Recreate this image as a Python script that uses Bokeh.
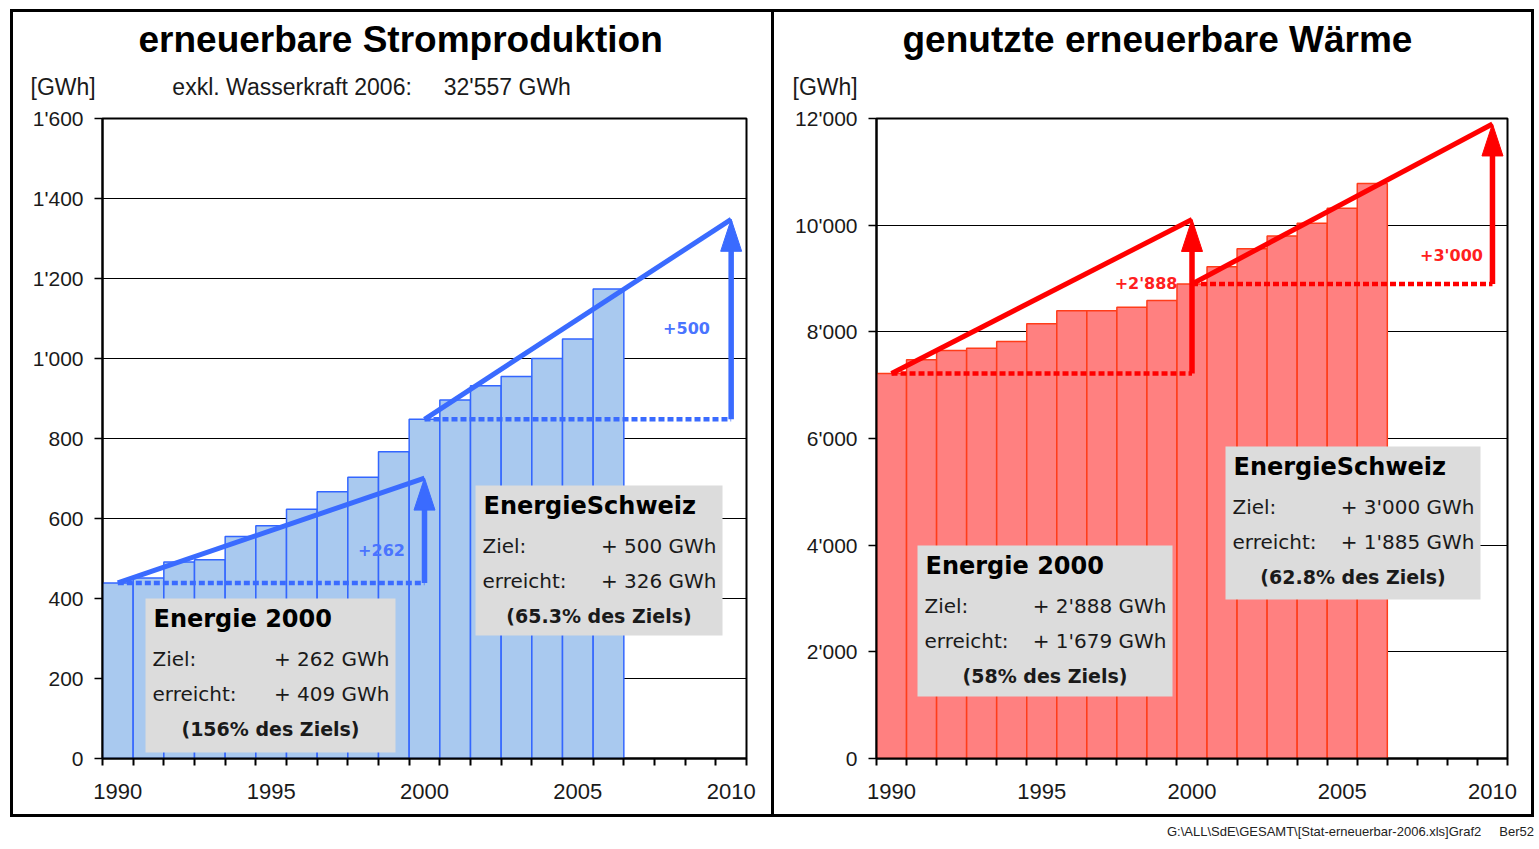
from bokeh.plotting import figure
from bokeh.models import Range1d, FixedTicker, Label, BoxAnnotation, Div, Title, Spacer
from bokeh.layouts import row, column
from bokeh.embed import file_html
from bokeh.resources import INLINE

# ---------------- data ----------------
years = list(range(1990, 2007))
strom = [439, 451, 491, 497, 555, 582, 623, 667, 703, 767, 848, 896, 932, 955, 1000, 1049, 1174]
waerme = [7219, 7477, 7649, 7692, 7821, 8151, 8394, 8394, 8459, 8588, 8898, 9219, 9556, 9799, 10036, 10315, 10783]

strom_yticks = [0, 200, 400, 600, 800, 1000, 1200, 1400, 1600]
strom_ytick_labels = ["0", "200", "400", "600", "800", "1'000", "1'200", "1'400", "1'600"]
waerme_yticks = [0, 2000, 4000, 6000, 8000, 10000, 12000]
waerme_ytick_labels = ["0", "2'000", "4'000", "6'000", "8'000", "10'000", "12'000"]
x_ticks = [1990, 1995, 2000, 2005, 2010]
x_tick_labels = ["1990", "1995", "2000", "2005", "2010"]

base_year, mid_year, goal_year = 1990, 2000, 2010
strom_ziel_e2000, strom_ziel_es = 262, 500
waerme_ziel_e2000, waerme_ziel_es = 2888, 3000
strom_pct = ["156%", "65.3%"]
waerme_pct = ["58%", "62.8%"]

FONT = "Liberation Sans"
BOXFONT = "DejaVu Sans"
NB = "\u00a0"

FIG_TOP = 12      # page y of figure top
FIG_H = 802


def fmt(v):
    return f"{v:,}".replace(",", "'")


def make_title(**kw):
    try:
        return Title(**kw)
    except Exception:
        kw["standoff"] = 0
        return Title(**kw)


def make_panel(width, fig_x, frame_left, frame_w, ymax, yticks, ylabels,
               vals, ziele, fill, edge, linec, labc, title, title_left, sub_text, sub_left, texts):
    frame_top, frame_bottom = 118, 758
    p = figure(width=width, height=FIG_H, x_range=Range1d(1989.5, 2010.5), y_range=Range1d(0, ymax),
               output_backend="svg", toolbar_location=None, margin=0)
    p.title_location = None
    p.min_border_left = frame_left - fig_x
    p.min_border_right = fig_x + width - (frame_left + frame_w)
    p.min_border_top = frame_top - FIG_TOP
    p.min_border_bottom = FIG_TOP + FIG_H - frame_bottom
    p.background_fill_color = "white"
    p.border_fill_color = "white"
    p.outline_line_color = "black"
    p.outline_line_width = 2

    fb = frame_bottom
    ppx = frame_w / 21.0
    ppy = (frame_bottom - frame_top) / float(ymax)

    def dx(px):
        return 1989.5 + (px - frame_left) / ppx

    def dy(py):
        return (fb - py) / ppy

    # header titles (sub line first = closest to the frame)
    p.add_layout(make_title(text=sub_text, align="left", offset=sub_left - frame_left, standoff=38,
                            text_font=FONT, text_font_size="23px", text_font_style="normal",
                            text_color="#1a1a1a"), "above")
    p.add_layout(make_title(text=title, align="left", offset=title_left - frame_left, standoff=-14,
                            text_font=FONT, text_font_size="37px", text_font_style="bold",
                            text_color="black"), "above")

    # axes
    xa = p.xaxis[0]
    xa.ticker = FixedTicker(ticks=x_ticks, minor_ticks=[1989.5 + i for i in range(22)])
    xa.major_label_overrides = {t: l for t, l in zip(x_ticks, x_tick_labels)}
    xa.major_tick_out = 0
    xa.major_tick_in = 0
    xa.minor_tick_out = 7
    xa.minor_tick_in = 0
    xa.minor_tick_line_width = 2
    xa.minor_tick_line_color = "black"
    xa.axis_line_width = 2
    xa.axis_line_color = "black"
    xa.major_label_text_font = FONT
    xa.major_label_text_font_size = "22px"
    xa.major_label_text_color = "#1a1a1a"
    xa.major_label_standoff = 18

    ya = p.yaxis[0]
    ya.ticker = FixedTicker(ticks=yticks)
    ya.major_label_overrides = {t: l for t, l in zip(yticks, ylabels)}
    ya.major_tick_out = 8
    ya.major_tick_in = 0
    ya.major_tick_line_width = 1.5
    ya.major_tick_line_color = "black"
    ya.minor_tick_line_color = None
    ya.axis_line_width = 2
    ya.axis_line_color = "black"
    ya.major_label_text_font = FONT
    ya.major_label_text_font_size = "21px"
    ya.major_label_text_color = "#1a1a1a"
    ya.major_label_standoff = 11

    p.xgrid.grid_line_color = None
    p.ygrid.ticker = FixedTicker(ticks=yticks)
    p.ygrid.grid_line_color = "black"
    p.ygrid.grid_line_width = 1

    # bars
    p.vbar(x=years, top=vals, width=1.0, bottom=0, fill_color=fill, line_color=edge, line_width=1.5)

    v0 = vals[years.index(base_year)]
    v1 = vals[years.index(mid_year)]
    t1 = v0 + ziele[0]
    t2 = v1 + ziele[1]

    # trend lines
    p.line([base_year, mid_year], [v0, t1], line_color=linec, line_width=5)
    p.line([mid_year, goal_year], [v1, t2], line_color=linec, line_width=5)
    # dotted baselines
    p.line([base_year, mid_year], [v0, v0], line_color=linec, line_width=4.5, line_dash="6 3")
    p.line([mid_year, goal_year], [v1, v1], line_color=linec, line_width=4.5, line_dash="6 3")
    # arrows
    hw = 21.0 / ppx
    hh = 32.0 / ppy
    for ax, y0, y1 in [(mid_year, v0, t1), (goal_year, v1, t2)]:
        p.line([ax, ax], [y0, y1 - hh * 0.5], line_color=linec, line_width=5.5)
        p.patch([ax - hw / 2, ax + hw / 2, ax], [y1 - hh, y1 - hh, y1], fill_color=linec, line_color=linec)

    def lab(px, py, text, size, bold=False, align="left", color="black", font=FONT):
        p.add_layout(Label(x=dx(px), y=dy(py), text=text, text_font=font, text_font_size=f"{size}px",
                           text_font_style="bold" if bold else "normal", text_align=align,
                           text_baseline="middle", text_color=color))

    # delta labels
    for (px, py, align, txt) in texts["deltas"]:
        lab(px, py, txt, 16, bold=True, align=align, color=labc, font=BOXFONT)

    # info boxes
    for bx in texts["boxes"]:
        l, r, t, b = bx["box"]
        p.add_layout(BoxAnnotation(left=dx(l), right=dx(r), top=dy(t), bottom=dy(b),
                                   fill_color="#dcdcdc", fill_alpha=1.0, line_color=None))
        lab(l + 8, t + 20, bx["title"], 24, bold=True, font=BOXFONT)
        lab(l + 7, t + 60, "Ziel:", 20, color="#1a1a1a", font=BOXFONT)
        lab(r - 6, t + 60, bx["ziel"], 20, align="right", color="#1a1a1a", font=BOXFONT)
        lab(l + 7, t + 95, "erreicht:", 20, color="#1a1a1a", font=BOXFONT)
        lab(r - 6, t + 95, bx["erreicht"], 20, align="right", color="#1a1a1a", font=BOXFONT)
        lab((l + r) / 2, t + 130, bx["pct"], 19, bold=True, align="center", color="#1a1a1a", font=BOXFONT)
    return p


s0 = strom[years.index(base_year)]
s1 = strom[years.index(mid_year)]
s2 = strom[-1]
w0 = waerme[years.index(base_year)]
w1 = waerme[years.index(mid_year)]
w2 = waerme[-1]

left_sub = "[GWh]" + NB * 12 + "exkl. Wasserkraft 2006:" + NB * 5 + "32'557 GWh"

left = make_panel(
    758, 13, 102, 644, 1600, strom_yticks, strom_ytick_labels,
    strom, [strom_ziel_e2000, strom_ziel_es],
    "#a9c9ef", "#3366ff", "#3a6bff", "#4a74ff",
    "erneuerbare Stromproduktion", 138, left_sub, 30,
    {
        "deltas": [(381, 549, "center", "+" + fmt(strom_ziel_e2000)),
                   (686, 327, "center", "+" + fmt(strom_ziel_es))],
        "boxes": [
            {"box": (145, 395, 598, 752), "title": "Energie 2000", "ziel": "+ " + fmt(strom_ziel_e2000) + " GWh",
             "erreicht": "+ " + fmt(s1 - s0) + " GWh", "pct": "(" + strom_pct[0] + " des Ziels)"},
            {"box": (475, 722, 485, 635), "title": "EnergieSchweiz", "ziel": "+ " + fmt(strom_ziel_es) + " GWh",
             "erreicht": "+ " + fmt(s2 - s1) + " GWh", "pct": "(" + strom_pct[1] + " des Ziels)"},
        ],
    })

right = make_panel(
    757, 774, 876, 631, 12000, waerme_yticks, waerme_ytick_labels,
    waerme, [waerme_ziel_e2000, waerme_ziel_es],
    "#ff8080", "#ff3d1a", "#ff0000", "#ff2020",
    "genutzte erneuerbare Wärme", 902, "[GWh]", 792,
    {
        "deltas": [(1177, 283, "right", "+" + fmt(waerme_ziel_e2000)),
                   (1451, 255, "center", "+" + fmt(waerme_ziel_es))],
        "boxes": [
            {"box": (917, 1172, 545, 696), "title": "Energie 2000", "ziel": "+ " + fmt(waerme_ziel_e2000) + " GWh",
             "erreicht": "+ " + fmt(w1 - w0) + " GWh", "pct": "(" + waerme_pct[0] + " des Ziels)"},
            {"box": (1225, 1480, 446, 599), "title": "EnergieSchweiz", "ziel": "+ " + fmt(waerme_ziel_es) + " GWh",
             "erreicht": "+ " + fmt(w2 - w1) + " GWh", "pct": "(" + waerme_pct[1] + " des Ziels)"},
        ],
    })


def bar(w, h):
    return Div(text="", width=w, height=h, margin=0, styles={"background-color": "black"})


footer = Div(text="G:\\ALL\\SdE\\GESAMT\\[Stat-erneuerbar-2006.xls]Graf2&nbsp;&nbsp;&nbsp;&nbsp;&nbsp;Ber52",
             width=1534, height=26, margin=0,
             styles={"text-align": "right", "font-family": "Liberation Sans", "font-size": "13px",
                     "padding-top": "6px", "color": "#222"})

layout = column(
    Spacer(height=9, margin=0),
    row(Spacer(width=10, margin=0), bar(1524, 3), spacing=0, margin=0),
    row(Spacer(width=10, margin=0), bar(3, FIG_H), left, bar(3, FIG_H), right, bar(3, FIG_H), spacing=0, margin=0),
    row(Spacer(width=10, margin=0), bar(1524, 3), spacing=0, margin=0),
    footer,
    spacing=0, margin=0)

open("out.html", "w").write(file_html(layout, INLINE))
